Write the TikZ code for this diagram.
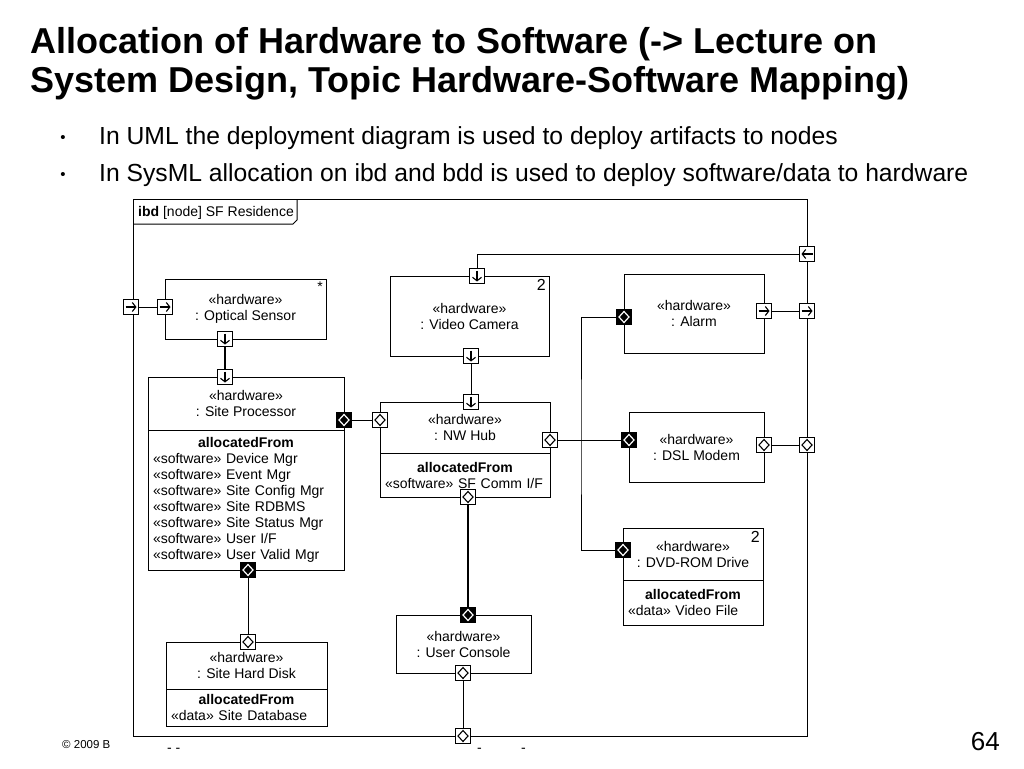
\documentclass[tikz,border=0pt]{standalone}
\usepackage{fontspec}
\setmainfont{Liberation Sans}
\usetikzlibrary{arrows.meta,positioning}
\setlength{\parindent}{0pt}

\tikzset{
  title/.style={font=\fontsize{36}{39}\selectfont\bfseries, inner sep=0pt},
  bullettxt/.style={font=\fontsize{24.7}{30}\selectfont, inner sep=0pt},
  diag/.style={font=\fontsize{14}{16}\selectfont},
  block/.style={draw, line width=1pt, inner sep=0pt, outer sep=0pt, align=center, diag},
  alloc/.style={draw, line width=1pt, inner xsep=5pt, inner ysep=2pt, outer sep=0pt, align=left, diag},
  port/.style={draw, fill=white, line width=0.9pt, minimum size=15pt, inner sep=0pt},
  flowtip/.style={line width=1.1pt, -{Straight Barb[length=3.5pt,width=9pt,line width=1.1pt]}},
  flowright/.style={port, path picture={
    \draw[flowtip] ([xshift=-5.5pt]path picture bounding box.center) -- ([xshift=5.5pt]path picture bounding box.center);}},
  flowleft/.style={port, path picture={
    \draw[flowtip] ([xshift=5.5pt]path picture bounding box.center) -- ([xshift=-5.5pt]path picture bounding box.center);}},
  flowdown/.style={port, path picture={
    \draw[flowtip] ([yshift=5.5pt]path picture bounding box.center) -- ([yshift=-5.5pt]path picture bounding box.center);}},
  fullport/.style={port, path picture={
    \draw[shift={(path picture bounding box.center)}, line width=1.1pt]
      (-5pt,0) -- (0,5.5pt) -- (5pt,0) -- (0,-5.5pt) -- cycle;}},
  blackport/.style={port, fill=black, path picture={
    \draw[white, shift={(path picture bounding box.center)}, line width=1.2pt]
      (-5pt,0) -- (0,5.5pt) -- (5pt,0) -- (0,-5.5pt) -- cycle;}},
  conn/.style={line width=1pt},
  thickconn/.style={line width=2pt},
}

\begin{document}
\begin{tikzpicture}[x=1pt, y=-1pt]
\useasboundingbox (0,0) rectangle (1024,768);

% Slide title and bullets
\node[title, anchor=base west] (title1) at (30,53) {Allocation of Hardware to Software (-> Lecture on};
\node[title, anchor=base west] (title2) at (30,92) {System Design, Topic Hardware-Software Mapping)};
\node[font=\fontsize{15}{18}\selectfont, anchor=base] (dot1) at (63,142) {\textbullet};
\node[bullettxt, anchor=base west] (bul1) at (99,144) {In UML the deployment diagram is used to deploy artifacts to nodes};
\node[font=\fontsize{15}{18}\selectfont, anchor=base] (dot2) at (63,179) {\textbullet};
\node[bullettxt, anchor=base west] (bul2) at (99,181) {In SysML allocation on ibd and bdd is used to deploy software/data to hardware};

% Diagram frame
\node[draw, line width=1pt, minimum width=674pt, minimum height=537pt, inner sep=0pt, anchor=north west] (frame) at (133,199) {};
\draw[line width=1pt] (133,224) -- (293,224) -- (297,220) -- (297,199);
\node[diag, anchor=west, inner sep=0pt] (framelbl) at (138,213) {\textbf{ibd} [node] SF Residence};

% Parts
\node[block, minimum width=161pt, minimum height=60pt, anchor=north west] (optsensor) at (165,279) {«hardware»\\: Optical Sensor};
\node[diag, anchor=north east, inner sep=3pt] (optmult) at (optsensor.north east) {*};

\node[block, minimum width=196pt, minimum height=53pt, anchor=north west] (sitehdr) at (148,377) {«hardware»\\: Site Processor};
\node[alloc, text width=186pt, minimum height=140pt, below=0pt of sitehdr] (sitealloc) {\hfill\textbf{allocatedFrom}\hfill\null\\
  «software» Device Mgr\\
  «software» Event Mgr\\
  «software» Site Config Mgr\\
  «software» Site RDBMS\\
  «software» Site Status Mgr\\
  «software» User I/F\\
  «software» User Valid Mgr};

\node[block, minimum width=159pt, minimum height=80pt, anchor=north west] (camera) at (390,276) {«hardware»\\: Video Camera};
\node[font=\fontsize{16}{18}\selectfont, anchor=north east, inner sep=3pt] (cammult) at (camera.north east) {2};

\node[block, minimum width=170pt, minimum height=51pt, anchor=north west] (hubhdr) at (380,402) {«hardware»\\: NW Hub};
\node[alloc, text width=160pt, minimum height=44pt, below=0pt of hubhdr] (huballoc) {\hfill\textbf{allocatedFrom}\hfill\null\\
  «software» SF Comm I/F};

\node[block, minimum width=140pt, minimum height=79pt, anchor=north west] (alarm) at (624,274) {«hardware»\\: Alarm};
\node[block, minimum width=135pt, minimum height=70pt, anchor=north west] (dsl) at (629,412) {«hardware»\\: DSL Modem};

\node[block, minimum width=140pt, minimum height=52pt, anchor=north west] (dvdhdr) at (623,528) {«hardware»\\: DVD-ROM Drive};
\node[alloc, text width=130pt, minimum height=45pt, below=0pt of dvdhdr] (dvdalloc) {\hfill\textbf{allocatedFrom}\hfill\null\\
  «data» Video File};
\node[font=\fontsize{16}{18}\selectfont, anchor=north east, inner sep=3pt] (dvdmult) at (dvdhdr.north east) {2};

\node[block, minimum width=161pt, minimum height=47pt, anchor=north west] (diskhdr) at (166,642) {«hardware»\\: Site Hard Disk};
\node[alloc, text width=151pt, minimum height=37pt, below=0pt of diskhdr] (diskalloc) {\hfill\textbf{allocatedFrom}\hfill\null\\
  «data» Site Database};

\node[block, minimum width=135pt, minimum height=58pt, anchor=north west] (console) at (396,615) {«hardware»\\: User Console};

% Ports on the frame
\node[flowright] (fin) at (131,307) {};
\node[flowleft] (fcam) at (807,254) {};
\node[flowright] (falarm) at (807,311) {};
\node[fullport] (fdsl) at (807,445) {};
\node[fullport] (fcons) at (463,736) {};

% Ports on the parts
\node[flowright] (osin) at (165,307) {};
\node[flowdown] (osout) at (225,339) {};
\node[flowdown] (spin) at (225,377) {};
\node[blackport] (spright) at (344,420) {};
\node[blackport] (spbot) at (248,570) {};
\node[flowdown] (camin) at (477,276) {};
\node[flowdown] (camout) at (471,356) {};
\node[flowdown] (hubin) at (471,402) {};
\node[fullport] (hubl) at (380,420) {};
\node[fullport] (hubr) at (550,440) {};
\node[fullport] (hubbot) at (468,497) {};
\node[blackport] (alarml) at (624,317) {};
\node[flowright] (alarmr) at (764,311) {};
\node[blackport] (dsll) at (629,440) {};
\node[fullport] (dslr) at (764,445) {};
\node[blackport] (dvdl) at (623,550) {};
\node[fullport] (hdtop) at (248,642) {};
\node[blackport] (uctop) at (468,615) {};
\node[fullport] (ucbot) at (463,673) {};

% Connectors
\coordinate (split) at (581,440);
\draw[conn] (fin) -- (osin);
\draw[thickconn] (osout) -- (spin);
\draw[conn] (camin) |- (fcam);
\draw[conn] (camout) -- (hubin);
\draw[conn] (spright) -- (hubl);
\draw[conn] (hubr) -- (dsll);
\draw[conn] (alarml) -| (split) |- (dvdl);
\draw[conn] (alarmr) -- (falarm);
\draw[conn] (dslr) -- (fdsl);
\draw[conn] (spbot) -- (hdtop);
\draw[thickconn] (hubbot) -- (uctop);
\draw[conn] (ucbot) -- (fcons);

% Footer
\node[font=\fontsize{11.5}{13}\selectfont, anchor=base west, inner sep=0pt] (copyr) at (62,748) {© 2009 B};
\node[diag, anchor=base west, inner sep=0pt] (dash1) at (167,752) {- -};
\node[diag, anchor=base west, inner sep=0pt] (dash2) at (477,752) {-};
\node[diag, anchor=base west, inner sep=0pt] (dash3) at (521,752) {-};
\node[font=\fontsize{26}{30}\selectfont, anchor=base east, inner sep=0pt] (pagenum) at (1000,750) {64};
\end{tikzpicture}
\end{document}
